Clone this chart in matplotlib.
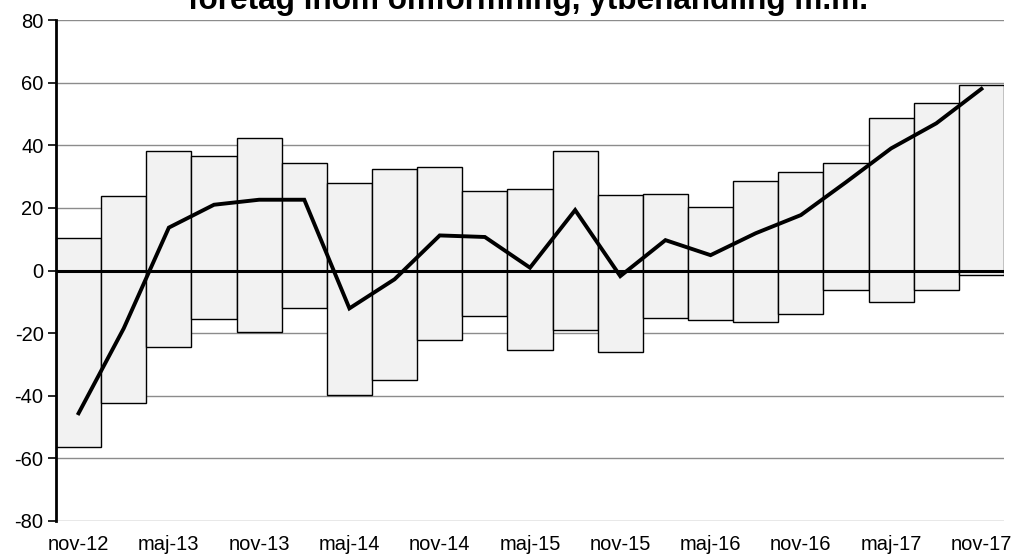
import matplotlib
matplotlib.use("Agg")
import matplotlib.pyplot as plt
import numpy as np

plt.rcParams['font.family'] = ['Liberation Sans', 'DejaVu Sans']
plt.rcParams['axes.unicode_minus'] = False

categories = ["nov-12", "feb-13", "maj-13", "aug-13", "nov-13", "feb-14", "maj-14",
              "aug-14", "nov-14", "feb-15", "maj-15", "aug-15", "nov-15", "feb-16",
              "maj-16", "aug-16", "nov-16", "feb-17", "maj-17", "aug-17", "nov-17"]
high = [10.5, 23.8, 38.3, 36.6, 42.4, 34.4, 28.0, 32.3, 33.1, 25.5, 26.1,
        38.3, 24.1, 24.5, 20.4, 28.6, 31.6, 34.4, 48.8, 53.5, 59.4]
low = [-56.4, -42.3, -24.5, -15.6, -19.6, -11.9, -39.9, -35.1, -22.1, -14.6, -25.4,
       -19.0, -26.1, -15.2, -15.9, -16.6, -13.8, -6.3, -10.1, -6.3, -1.3]
net = [-45.6, -18.5, 13.7, 21.0, 22.6, 22.6, -12.1, -2.8, 11.2, 10.7, 0.9,
       19.3, -1.8, 9.7, 4.9, 11.9, 17.7, 28.2, 39.0, 47.0, 58.0]
title = "företag inom omformning, ytbehandling m.m."

fig = plt.figure(figsize=(10.13, 5.54), dpi=100)
ax = fig.add_axes([56/1013, 1-521/554, (1004-56)/1013, (521-20)/554])

x = np.arange(len(categories))
heights = [h - l for h, l in zip(high, low)]
ax.bar(x, heights, bottom=low, width=1.0, color="#f2f2f2", edgecolor="black",
       linewidth=1.0, zorder=2)
ax.axhline(0, color="black", linewidth=2.2, zorder=3)
ax.plot(x, net, color="black", linewidth=2.8, zorder=4, solid_joinstyle="miter")

ax.set_xlim(-0.5, len(categories) - 0.5)
ax.set_ylim(-80, 80)
ax.set_yticks(np.arange(-80, 81, 20))
ax.yaxis.grid(True, color="#8c8c8c", linewidth=1.0, zorder=0)
ax.set_axisbelow(True)

ax.set_xticks(x[::2])
ax.set_xticklabels(categories[::2])
ax.tick_params(axis="x", length=0, pad=10, labelsize=14.5)
ax.tick_params(axis="y", length=6, width=1.2, direction="out", pad=3, labelsize=14.5)

for s in ["top", "right", "bottom"]:
    ax.spines[s].set_visible(False)
ax.spines["left"].set_linewidth(2.0)

fig.text(0.521, 0.999, title, ha="center", va="center", fontsize=22.7, fontweight="bold")

fig.savefig("out.png", dpi=100)
